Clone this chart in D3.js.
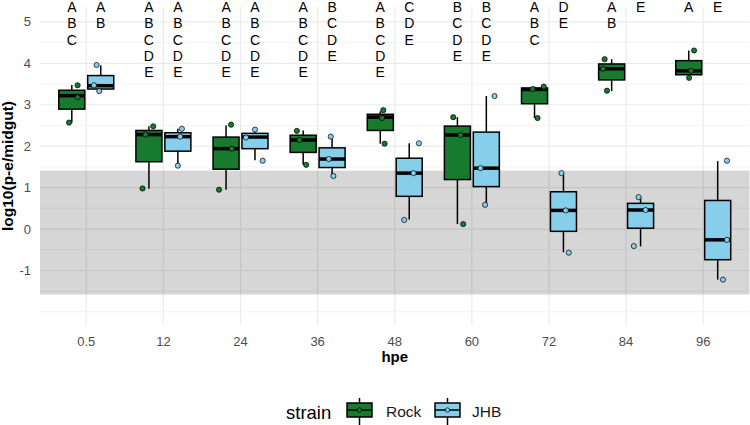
<!DOCTYPE html>
<html><head><meta charset="utf-8">
<script src="https://cdn.jsdelivr.net/npm/d3@7"></script>
<style>body{margin:0;background:#fff}svg{display:block}text{font-family:"Liberation Sans",Arial,sans-serif}</style>
</head><body><svg id="c" width="750" height="425"></svg>
<script>
const categories = ["0.5","12","24","36","48","60","72","84","96"];
const strains = ["Rock","JHB"];
// raw group values (min, median, max) per hpe
const rockValues = [[2.57,3.22,3.48],[0.97,2.28,2.48],[0.95,1.94,2.50],[1.55,2.15,2.38],[2.06,2.70,2.84],[0.12,2.27,2.70],[2.68,3.37,3.44],[3.33,3.87,4.10],[3.63,3.82,4.31]];
const jhbValues  = [[3.30,3.46,3.95],[1.53,2.23,2.42],[1.66,2.22,2.40],[1.28,1.69,2.23],[0.23,1.35,2.07],[0.58,1.47,3.21],[-0.56,0.45,1.35],[-0.42,0.46,0.78],[-1.22,-0.26,1.64]];
// jittered points as plotted
const rockPoints = [[2.57,3.18,3.47],[0.98,2.28,2.48],[0.95,1.94,2.52],[1.55,2.15,2.37],[2.06,2.68,2.87],[0.12,2.27,2.70],[2.68,3.38,3.44],[3.34,3.87,4.10],[3.65,3.82,4.31]];
const rockJitter = [[-0.036,0.075,0.075],[-0.083,-0.044,0.056],[-0.091,0.074,0.065],[0.039,-0.048,-0.082],[0.056,0.022,0.039],[0.075,0.041,-0.054],[0.039,-0.026,0.12],[-0.061,-0.113,-0.091],[0.004,0.03,0.069]];
const jhbPoints = [[3.33,3.47,3.96],[1.53,2.23,2.42],[1.65,2.21,2.40],[1.28,1.69,2.23],[0.22,1.35,2.07],[0.585,1.47,3.21],[-0.57,0.45,1.35],[-0.41,0.46,0.77],[-1.22,-0.26,1.65]];
const jhbJitter = [[-0.019,-0.088,-0.054],[0,0.03,0.052],[0.1,-0.117,0],[0.017,-0.043,-0.017],[-0.065,0.056,0.126],[-0.016,-0.075,0.106],[0.069,0.03,-0.026],[-0.087,0.065,-0.026],[0.069,0.12,0.12]];
const rockLetters = ["ABC","ABCDE","ABCDE","ABCDE","ABCDE","BCDE","ABC","AB","A"];
const jhbLetters  = ["AB","ABCDE","ABCDE","BCDE","CDE","BCDE","DE","E","E"];
const bandLow = -1.58, bandHigh = 1.41;
const yTicks = [-1,0,1,2,3,4,5];
const yMinor = [-2,-1.5,-0.5,0.5,1.5,2.5,3.5,4.5];
const colors = {Rock:"#187a2f", JHB:"#87ceeb"};

const svg = d3.select("#c");
const L = 40, R = 749.5, T = 7, B = 325;
const x = d3.scalePoint().domain(categories).range([L,R]).padding(0.6);
const step = x.step();
const y = d3.scaleLinear().domain([-2.316,5.36]).range([B,T]);
const dodge = {Rock:-0.1875*step, JHB:0.1875*step};
const bw = 0.3375*step;

const grid = svg.append("g");
grid.selectAll(".mn").data(yMinor).join("line").attr("x1",L).attr("x2",R)
  .attr("y1",d=>y(d)).attr("y2",d=>y(d)).attr("stroke","#ebebeb").attr("stroke-width",0.6);
grid.selectAll(".mj").data(yTicks).join("line").attr("x1",L).attr("x2",R)
  .attr("y1",d=>y(d)).attr("y2",d=>y(d)).attr("stroke","#ebebeb").attr("stroke-width",1.2);
grid.selectAll(".vx").data(categories).join("line").attr("x1",d=>x(d)).attr("x2",d=>x(d))
  .attr("y1",T).attr("y2",B).attr("stroke","#ebebeb").attr("stroke-width",1.2);

svg.append("rect").attr("x",L).attr("width",R-L).attr("y",y(bandHigh)).attr("height",y(bandLow)-y(bandHigh))
  .attr("fill","#000").attr("fill-opacity",0.16);

// axes labels
svg.append("g").selectAll("text").data(yTicks).join("text").attr("x",31).attr("y",d=>y(d)).attr("dy","0.35em")
  .attr("text-anchor","end").attr("font-size",13).attr("fill","#4d4d4d").text(d=>d);
svg.append("g").selectAll("text").data(categories).join("text").attr("x",d=>x(d)).attr("y",345.5)
  .attr("text-anchor","middle").attr("font-size",13).attr("fill","#4d4d4d").text(d=>d);
svg.append("text").attr("x",(L+R)/2).attr("y",362).attr("text-anchor","middle").attr("font-size",15)
  .attr("font-weight","bold").text("hpe");
svg.append("text").attr("transform",`translate(13,${(T+B)/2}) rotate(-90)`).attr("text-anchor","middle")
  .attr("font-size",15.5).attr("font-weight","bold").text("log10(p-e/midgut)");

const sets = [
  {s:"Rock", vals:rockValues, pts:rockPoints, jit:rockJitter, lets:rockLetters},
  {s:"JHB", vals:jhbValues, pts:jhbPoints, jit:jhbJitter, lets:jhbLetters}
];
const gB = svg.append("g"), gP = svg.append("g"), gL = svg.append("g");
sets.forEach(set=>{
  categories.forEach((c,i)=>{
    const v = set.vals[i].slice().sort(d3.ascending);
    const q1 = d3.quantile(v,0.25), md = d3.quantile(v,0.5), q3 = d3.quantile(v,0.75);
    const cx = x(c)+dodge[set.s];
    const g = gB.append("g");
    g.append("line").attr("x1",cx).attr("x2",cx).attr("y1",y(v[v.length-1])).attr("y2",y(q3)).attr("stroke","#000").attr("stroke-width",1.5);
    g.append("line").attr("x1",cx).attr("x2",cx).attr("y1",y(q1)).attr("y2",y(v[0])).attr("stroke","#000").attr("stroke-width",1.5);
    g.append("rect").attr("x",cx-bw/2).attr("width",bw).attr("y",y(q3)).attr("height",y(q1)-y(q3))
      .attr("fill",colors[set.s]).attr("stroke","#000").attr("stroke-width",1.5);
    g.append("line").attr("x1",cx-bw/2).attr("x2",cx+bw/2).attr("y1",y(md)).attr("y2",y(md)).attr("stroke","#000").attr("stroke-width",3.5);
    set.pts[i].forEach((p,k)=>{
      gP.append("circle").attr("cx",cx+set.jit[i][k]*step).attr("cy",y(p)).attr("r",2.6)
        .attr("fill",colors[set.s]).attr("stroke","#000").attr("stroke-width",0.7);
    });
    const t = gL.append("text").attr("text-anchor","middle").attr("font-size",14).attr("fill","#000");
    set.lets[i].split("").forEach((ch,k)=>{
      t.append("tspan").attr("x",cx).attr("y",12+k*16.3).text(ch);
    });
  });
});

// legend
const lg = svg.append("g");
lg.append("text").attr("x",286).attr("y",419).attr("font-size",18.5).attr("fill","#000").text("strain");
const keys = [{s:"Rock",kx:347,tx:386},{s:"JHB",kx:435,tx:472}];
keys.forEach(k=>{
  const cx = k.kx+12.5;
  lg.append("line").attr("x1",cx).attr("x2",cx).attr("y1",398).attr("y2",425).attr("stroke","#000").attr("stroke-width",1.5);
  lg.append("rect").attr("x",k.kx).attr("y",403).attr("width",25).attr("height",14).attr("fill",colors[k.s]).attr("stroke","#000").attr("stroke-width",1.5);
  lg.append("line").attr("x1",k.kx).attr("x2",k.kx+25).attr("y1",410).attr("y2",410).attr("stroke","#000").attr("stroke-width",1.5);
  lg.append("circle").attr("cx",cx).attr("cy",410).attr("r",2.2).attr("fill",colors[k.s]).attr("stroke","#000").attr("stroke-width",0.7);
  lg.append("text").attr("x",k.tx).attr("y",417).attr("font-size",15.5).attr("fill","#1a1a1a").text(k.s);
});
</script></body></html>
